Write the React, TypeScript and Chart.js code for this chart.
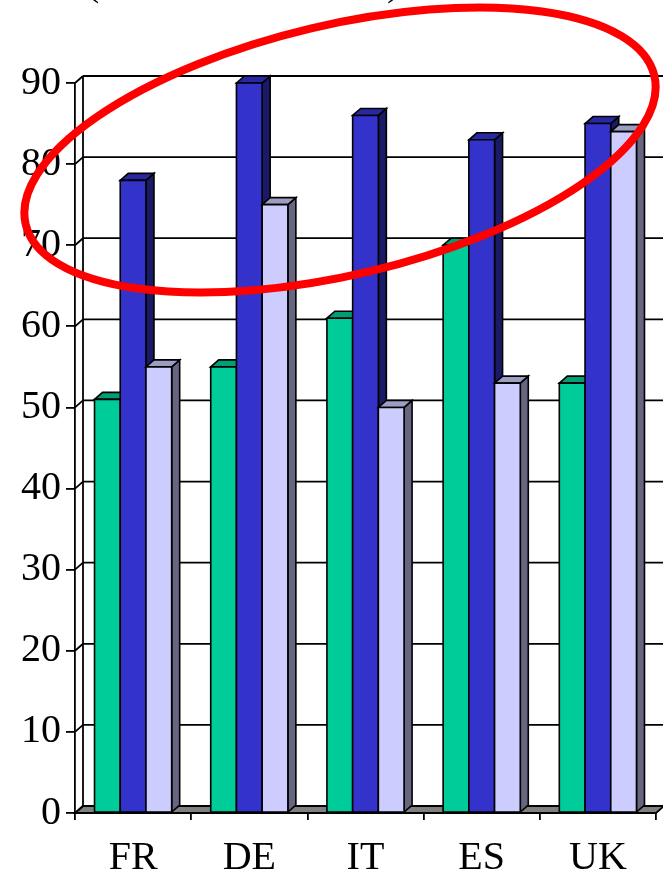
import React, { useEffect, useRef } from "react";
import { Chart, registerables } from "chart.js";

Chart.register(...registerables);

const categories = ["FR", "DE", "IT", "ES", "UK"];
const seriesGreen = [51, 55, 61, 70, 53];
const seriesBlue = [78, 90, 86, 83, 85];
const seriesLight = [55, 75, 50, 53, 84];
const yTickValues = [0, 10, 20, 30, 40, 50, 60, 70, 80, 90];

const frontColors = ["#00CC99", "#3333CC", "#CCCCFF"];
const topColors = ["#009E76", "#2828A3", "#9D9DC4"];
const sideColors = ["#00664D", "#1A1A66", "#666680"];

const DX = 8;
const DY = 7;
const FONT = "'Liberation Serif', 'Times New Roman', Times, serif";

const frame3d = {
  id: "frame3d",
  beforeDatasetsDraw(chart: any) {
    const { ctx, chartArea, scales } = chart;
    const { left, right, bottom } = chartArea;
    const y = scales.y;
    ctx.save();
    ctx.strokeStyle = "#000";
    ctx.lineWidth = 1.8;
    ctx.beginPath();
    ctx.moveTo(left, bottom);
    ctx.lineTo(right, bottom);
    ctx.lineTo(right + DX, bottom - DY);
    ctx.lineTo(left + DX, bottom - DY);
    ctx.closePath();
    ctx.fillStyle = "#808080";
    ctx.fill();
    ctx.stroke();
    for (const v of yTickValues) {
      const py = y.getPixelForValue(v);
      ctx.beginPath();
      ctx.moveTo(left + DX, py - DY);
      ctx.lineTo(right + DX + 20, py - DY);
      ctx.moveTo(left, py);
      ctx.lineTo(left + DX, py - DY);
      ctx.stroke();
    }
    const topPx = y.getPixelForValue(90);
    ctx.beginPath();
    ctx.moveTo(left + DX, topPx - DY);
    ctx.lineTo(left + DX, bottom - DY);
    ctx.stroke();
    ctx.restore();
  },
  afterDatasetsDraw(chart: any) {
    const { ctx } = chart;
    ctx.save();
    ctx.strokeStyle = "#000";
    ctx.lineWidth = 1.6;
    chart.data.datasets.forEach((_ds: any, di: number) => {
      const meta = chart.getDatasetMeta(di);
      meta.data.forEach((el: any) => {
        const { x, y, base, width } = el.getProps(["x", "y", "base", "width"], true);
        const l = x - width / 2;
        const r = x + width / 2;
        ctx.beginPath();
        ctx.moveTo(r, y);
        ctx.lineTo(r + DX, y - DY);
        ctx.lineTo(r + DX, base - DY);
        ctx.lineTo(r, base);
        ctx.closePath();
        ctx.fillStyle = sideColors[di];
        ctx.fill();
        ctx.stroke();
        ctx.beginPath();
        ctx.moveTo(l, y);
        ctx.lineTo(l + DX, y - DY);
        ctx.lineTo(r + DX, y - DY);
        ctx.lineTo(r, y);
        ctx.closePath();
        ctx.fillStyle = topColors[di];
        ctx.fill();
        ctx.stroke();
        ctx.beginPath();
        ctx.rect(l, y, width, base - y);
        ctx.fillStyle = frontColors[di];
        ctx.fill();
        ctx.stroke();
      });
    });
    ctx.restore();
  },
  afterDraw(chart: any) {
    const { ctx } = chart;
    ctx.save();
    ctx.fillStyle = "#000";
    ctx.font = `40px ${FONT}`;
    ctx.textBaseline = "alphabetic";
    ctx.textAlign = "left";
    ctx.fillText("(", 86, -5);
    ctx.fillText(")", 387, -5);
    ctx.beginPath();
    ctx.ellipse(340, 150, 323, 125, (-13.3 * Math.PI) / 180, 0, Math.PI * 2);
    ctx.strokeStyle = "#FF0000";
    ctx.lineWidth = 8;
    ctx.stroke();
    ctx.restore();
  },
};

export default function App() {
  const ref = useRef<HTMLCanvasElement | null>(null);
  useEffect(() => {
    document.body.style.margin = "0";
    const canvas = ref.current;
    if (!canvas) return;
    let chart: any = null;
    let cancelled = false;
    const build = () => {
      if (cancelled) return;
      chart = new Chart(canvas, {
        type: "bar",
        data: {
          labels: categories,
          datasets: [
            { label: "A", data: seriesGreen, backgroundColor: frontColors[0], borderColor: "#000", borderWidth: 1.5, borderSkipped: false },
            { label: "B", data: seriesBlue, backgroundColor: frontColors[1], borderColor: "#000", borderWidth: 1.5, borderSkipped: false },
            { label: "C", data: seriesLight, backgroundColor: frontColors[2], borderColor: "#000", borderWidth: 1.5, borderSkipped: false },
          ],
        },
        options: {
          animation: false,
          responsive: false,
          devicePixelRatio: 1,
          layout: { padding: { left: 0, top: 83, right: 7, bottom: 0 } },
          plugins: { legend: { display: false }, tooltip: { enabled: false }, title: { display: false } },
          datasets: { bar: { categoryPercentage: 0.664, barPercentage: 1 } },
          scales: {
            x: {
              type: "category",
              offset: true,
              grid: { display: true, drawOnChartArea: false, drawTicks: true, tickLength: 7, color: "#000", lineWidth: 1.8, offset: true },
              border: { display: true, color: "#000", width: 1.8 },
              ticks: { color: "#000", font: { family: FONT, size: 40 }, padding: 14, maxRotation: 0, autoSkip: false },
              afterFit: (s: any) => { s.height = 64; },
            },
            y: {
              type: "linear",
              min: 0,
              max: 90,
              grid: { display: true, drawOnChartArea: false, drawTicks: true, tickLength: 9, color: "#000", lineWidth: 1.8 },
              border: { display: true, color: "#000", width: 1.8 },
              ticks: { stepSize: 10, color: "#000", font: { family: FONT, size: 40 }, padding: 5 },
              afterFit: (s: any) => { s.width = 75; },
            },
          },
        },
        plugins: [frame3d],
      } as any);
    };
    const fontsApi: any = (document as any).fonts;
    if (fontsApi && fontsApi.load) {
      fontsApi.load("40px 'Liberation Serif'").then(build, build);
    } else {
      build();
    }
    return () => {
      cancelled = true;
      if (chart) chart.destroy();
    };
  }, []);
  return (
    <div style={{ width: 663, height: 877, overflow: "hidden" }}>
      <canvas ref={ref} width={663} height={877} style={{ display: "block", width: 663, height: 877 }} />
    </div>
  );
}
